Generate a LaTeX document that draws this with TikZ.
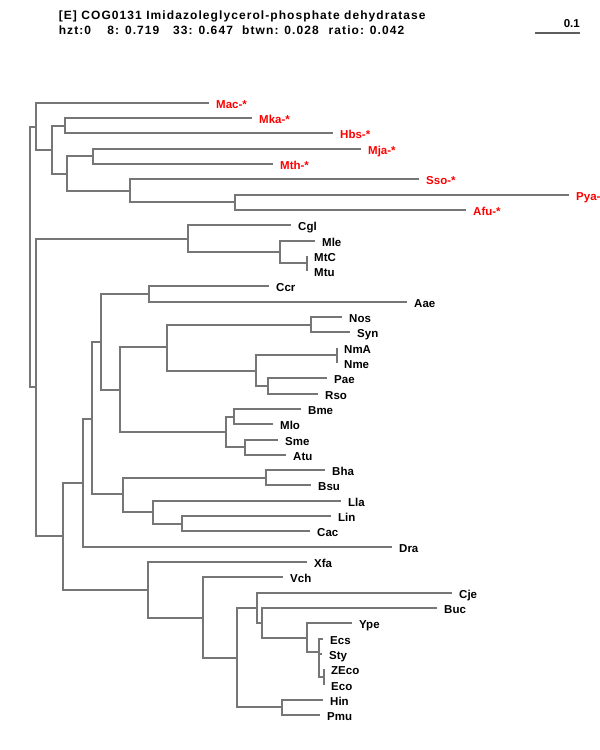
\documentclass[tikz,border=0pt]{standalone}
\usepackage{fontspec}
\setmainfont{Liberation Sans}
\newfontfamily\titlefont[LetterSpace=9]{Liberation Sans}
\usetikzlibrary{calc}
\definecolor{edgegray}{RGB}{118,118,118}
\definecolor{archred}{RGB}{255,0,0}
\tikzset{
  br/.style={draw=edgegray, line width=2pt},
  lab/.style={anchor=base west, inner sep=0pt, font=\fontsize{11.5}{12}\selectfont\bfseries, text=black},
  archlab/.style={lab, text=archred},
  ttl/.style={anchor=base west, inner sep=0pt, font=\titlefont\fontsize{12}{13}\selectfont\bfseries},
  scalebar/.style={draw=edgegray!80!black, line width=1.5pt},
}
\begin{document}
\begin{tikzpicture}[x=1pt,y=-1pt]
\useasboundingbox (0,0) rectangle (600,750);

% header
\node[ttl] (title) at (58.6,19) {[E] COG0131 Imidazoleglycerol-phosphate dehydratase};
\node[ttl] (st1) at (58.6,34.5) {hzt:0};
\node[ttl] (st2) at (107.2,34.5) {8: 0.719};
\node[ttl] (st3) at (173,34.5) {33: 0.647};
\node[ttl] (st4) at (242,34.5) {btwn: 0.028};
\node[ttl] (st5) at (328.5,34.5) {ratio: 0.042};
\coordinate (sbA) at (535,33);
\coordinate (sbB) at (580,33);
\draw[scalebar] (sbA) -- (sbB);
\node[lab, anchor=base east] (sbl) at (580,27) {0.1};

% leaf tips and labels (archaea, red)
\foreach \n/\x/\y/\t in {Mac/209/103/Mac-*, Mka/252/118/Mka-*, Hbs/333/133/Hbs-*,
  Mja/361/149/Mja-*, Mth/273/164/Mth-*, Sso/419/179/Sso-*, Pya/569/195/Pya-,
  Afu/466/210/Afu-*}{
  \coordinate (t\n) at (\x,\y);
  \node[archlab] (\n) at ([shift={(7,5.5)}]t\n) {\t};
}
% leaf tips and labels (black)
\foreach \n/\x/\y in {Cgl/291/225, Mle/315/241, MtC/307/256, Mtu/307/271,
  Ccr/269/286, Aae/407/302, Nos/342/317, Syn/350/332, NmA/337/348,
  Nme/337/363, Pae/327/378, Rso/318/394, Bme/301/409, Mlo/273/424,
  Sme/278/440, Atu/286/455, Bha/325/470, Bsu/311/485, Lla/341/501,
  Lin/331/516, Cac/310/531, Dra/392/547, Xfa/307/562, Vch/283/577,
  Cje/452/593, Buc/437/608, Ype/352/623, Ecs/323/639, Sty/322/654,
  ZEco/324/669, Eco/324/685, Hin/323/700, Pmu/320/715}{
  \coordinate (t\n) at (\x,\y);
  \node[lab] (\n) at ([shift={(7,5.5)}]t\n) {\n};
}

% internal nodes
\coordinate (iroot) at (30,207);
\coordinate (iA) at (36,127);
\coordinate (in1) at (52,150);
\coordinate (in2) at (65,126);
\coordinate (in3) at (67,174);
\coordinate (in4) at (93,156);
\coordinate (in5) at (130,191);
\coordinate (in6) at (235,202);
\coordinate (iB) at (36,387);
\coordinate (iC) at (188,239);
\coordinate (in7) at (280,252);
\coordinate (in8) at (307,263);
\coordinate (iD) at (63,536);
\coordinate (iE) at (83,483);
\coordinate (iG) at (92,419);
\coordinate (iH) at (101,342);
\coordinate (iJ) at (149,294);
\coordinate (iK) at (120,390);
\coordinate (iL) at (167,347);
\coordinate (iN) at (311,325);
\coordinate (iO) at (256,371);
\coordinate (iP) at (337,355);
\coordinate (iQ) at (268,386);
\coordinate (iM) at (226,432);
\coordinate (iR) at (234,417);
\coordinate (iS) at (245,447);
\coordinate (iI) at (123,494);
\coordinate (iT) at (266,478);
\coordinate (iU) at (153,512);
\coordinate (iV) at (182,524);
\coordinate (iF) at (148,590);
\coordinate (iW) at (203,618);
\coordinate (iX) at (237,658);
\coordinate (iY) at (257,608);
\coordinate (iAA) at (262,623);
\coordinate (iAB) at (307,638);
\coordinate (iAC) at (319,652);
\coordinate (iAD) at (324,677);
\coordinate (iZ) at (282,707);

% branches
\foreach \p/\c in {iroot/iA, iroot/iB,
  iA/tMac, iA/in1, in1/in2, in1/in3, in2/tMka, in2/tHbs, in3/in4, in3/in5,
  in4/tMja, in4/tMth, in5/tSso, in5/in6, in6/tPya, in6/tAfu,
  iB/iC, iB/iD, iC/tCgl, iC/in7, in7/tMle, in7/in8, in8/tMtC, in8/tMtu,
  iD/iE, iD/iF, iE/iG, iE/tDra, iG/iH, iG/iI, iH/iJ, iH/iK, iJ/tCcr, iJ/tAae,
  iK/iL, iK/iM, iL/iN, iL/iO, iN/tNos, iN/tSyn, iO/iP, iO/iQ, iP/tNmA, iP/tNme,
  iQ/tPae, iQ/tRso, iM/iR, iM/iS, iR/tBme, iR/tMlo, iS/tSme, iS/tAtu,
  iI/iT, iI/iU, iT/tBha, iT/tBsu, iU/tLla, iU/iV, iV/tLin, iV/tCac,
  iF/tXfa, iF/iW, iW/tVch, iW/iX, iX/iY, iX/iZ, iY/tCje, iY/iAA,
  iAA/tBuc, iAA/iAB, iAB/tYpe, iAB/iAC, iAC/tEcs, iAC/tSty, iAC/iAD,
  iAD/tZEco, iAD/tEco, iZ/tHin, iZ/tPmu}{
  \draw[br] (\p) |- (\c);
}
\end{tikzpicture}
\end{document}
